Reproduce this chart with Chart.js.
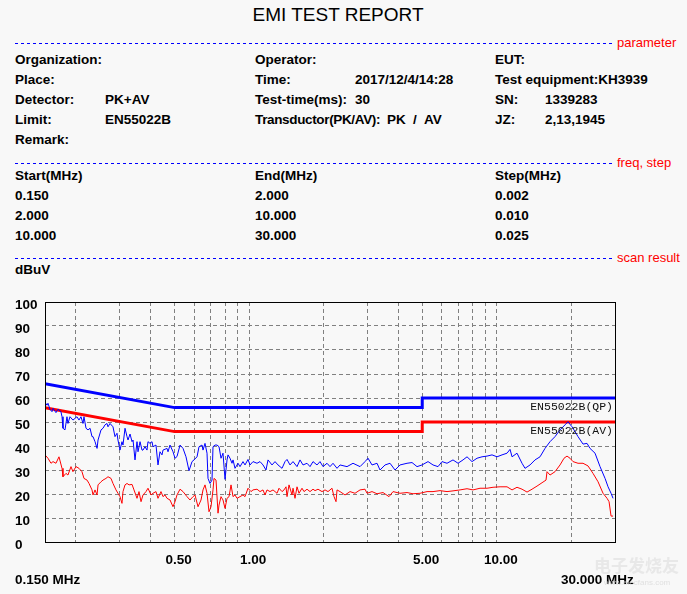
<!DOCTYPE html>
<html><head><meta charset="utf-8">
<script src="https://cdn.jsdelivr.net/npm/chart.js@4.4.0/dist/chart.umd.min.js"></script>
<style>
html,body{margin:0;padding:0;background:#f8f8f8;width:687px;height:594px;overflow:hidden;}
#wrap{position:relative;width:687px;height:594px;font-family:"Liberation Sans",Arial,sans-serif;color:#000;}
.t{position:absolute;font-weight:bold;font-size:13.5px;line-height:20px;white-space:pre;}
.sec{position:absolute;left:15px;width:597px;height:1px;background:repeating-linear-gradient(to right,#0000ff 0 3px,transparent 3px 6px);}
.lab{position:absolute;left:617px;font-size:13px;line-height:16px;color:#ff0000;white-space:pre;}
#title{position:absolute;left:188px;width:300px;text-align:center;top:3px;font-size:19px;line-height:24px;}
#cv{position:absolute;left:0;top:290px;}
#wm1{position:absolute;left:594px;top:552px;font-family:"Noto Sans CJK SC",sans-serif;font-size:17px;font-weight:bold;color:rgba(228,228,228,0.8);}
#wm2{position:absolute;left:604px;top:578px;font-size:8px;color:rgba(218,218,218,0.8);}
</style></head>
<body>
<div id="wrap">
  <div id="title">EMI TEST REPORT</div>

  <div class="sec" style="top:43px"></div><div class="lab" style="top:35px">parameter</div>
  <div class="t" style="left:15px;top:50px">Organization:</div>
  <div class="t" style="left:15px;top:70px">Place:</div>
  <div class="t" style="left:15px;top:90px">Detector:</div><div class="t" style="left:105px;top:90px">PK+AV</div>
  <div class="t" style="left:15px;top:110px">Limit:</div><div class="t" style="left:105px;top:110px">EN55022B</div>
  <div class="t" style="left:15px;top:130px">Remark:</div>

  <div class="t" style="left:255px;top:50px">Operator:</div>
  <div class="t" style="left:255px;top:70px">Time:</div><div class="t" style="left:355px;top:70px">2017/12/4/14:28</div>
  <div class="t" style="left:255px;top:90px">Test-time(ms):</div><div class="t" style="left:355px;top:90px">30</div>
  <div class="t" style="left:255px;top:110px;letter-spacing:-0.35px">Transductor(PK/AV):</div><div class="t" style="left:387px;top:110px">PK</div><div class="t" style="left:413px;top:110px">/</div><div class="t" style="left:424px;top:110px">AV</div>

  <div class="t" style="left:495px;top:50px">EUT:</div>
  <div class="t" style="left:495px;top:70px">Test equipment:KH3939</div>
  <div class="t" style="left:495px;top:90px">SN:</div><div class="t" style="left:545px;top:90px">1339283</div>
  <div class="t" style="left:495px;top:110px">JZ:</div><div class="t" style="left:545px;top:110px">2,13,1945</div>

  <div class="sec" style="top:163px"></div><div class="lab" style="top:155px">freq, step</div>
  <div class="t" style="left:15px;top:166px">Start(MHz)</div>
  <div class="t" style="left:255px;top:166px">End(MHz)</div>
  <div class="t" style="left:495px;top:166px">Step(MHz)</div>
  <div class="t" style="left:15px;top:186px">0.150</div><div class="t" style="left:255px;top:186px">2.000</div><div class="t" style="left:495px;top:186px">0.002</div>
  <div class="t" style="left:15px;top:206px">2.000</div><div class="t" style="left:255px;top:206px">10.000</div><div class="t" style="left:495px;top:206px">0.010</div>
  <div class="t" style="left:15px;top:226px">10.000</div><div class="t" style="left:255px;top:226px">30.000</div><div class="t" style="left:495px;top:226px">0.025</div>

  <div class="sec" style="top:258px"></div><div class="lab" style="top:250px">scan result</div>
  <div class="t" style="left:15px;top:260px">dBuV</div>

  <canvas id="cv" width="687" height="304" style="width:687px;height:304px"></canvas>

  <div class="t" style="left:15px;top:570px">0.150 MHz</div>
  <div class="t" style="left:561px;top:570px">30.000 MHz</div>
  <div id="wm1">电子发烧友</div>
  <div id="wm2">www.elecfans.com</div>
</div>
<script>
// ---- data (MHz, dBuV) ----
const pkFreqMHz = [
0.150,0.1528,0.1542,0.1571,0.1601,0.1616,0.1661,0.1693,0.1740,0.1757,
0.1773,0.1806,0.1840,0.1857,0.1892,0.1945,0.1982,0.2019,0.2057,0.2096,
0.2135,0.2155,0.2196,0.2238,0.2280,0.2322,0.2344,0.2388,0.2433,0.2456,
0.2525,0.2572,0.2620,0.2669,0.2694,0.2745,0.2822,0.2875,0.2929,0.2956,
0.3012,0.3068,0.3097,0.3156,0.3215,0.3245,0.3306,0.3368,0.3400,0.3463,
0.3528,0.3561,0.3628,0.3696,0.3730,0.3800,0.3871,0.3907,0.3981,0.4055,
0.4093,0.4209,0.4288,0.4368,0.4450,0.4492,0.4663,0.4706,0.4795,0.4930,
0.5023,0.5117,0.5262,0.5411,0.5563,0.5721,0.5883,0.5993,0.6163,0.6278,
0.6456,0.6516,0.6638,0.6763,0.6826,0.6954,0.7084,0.7150,0.7285,0.7422,
0.7561,0.7703,0.7847,0.7995,0.8145,0.8221,0.8375,0.8532,0.8612,0.8773,
0.8938,0.9021,0.9190,0.9450,0.9628,0.9900,1.0086,1.0371,1.0764,1.1069,
1.1382,1.1703,1.1923,1.2374,1.2725,1.3085,1.3580,1.3964,1.4226,1.4628,
1.5042,1.5612,1.6053,1.6507,1.7133,1.7617,1.8115,1.8802,1.9334,1.9880,
2.0633,2.1216,2.1816,2.2643,2.3283,2.4849,2.6274,2.8040,2.9375,3.0206,
3.1350,3.2841,3.3769,3.5377,3.7060,3.8823,4.0670,4.3406,4.5470,4.7633,
4.9898,5.2761,5.5270,5.7902,6.0095,6.2950,6.6559,6.9728,7.3044,7.5817,
7.9423,8.3203,8.7160,9.1312,9.5655,10.021,10.497,10.997,11.308,11.520,
12.067,12.641,12.999,13.617,14.265,14.944,15.655,16.400,17.18,17.997,
18.85,19.383,20.117,20.69,21.275,22.287,23.126,23.780,24.92,26.105,
27.35,28.123,28.918,29.461];
const pkLevel = [
58.2,57.0,57.8,55.3,54.3,55.7,53.9,55.3,54.3,52.2,
47.4,46.7,52.2,49.4,52.2,50.8,51.5,52.2,50.8,52.2,
49.4,52.2,47.4,46.7,47.4,43.9,43.9,41.8,39.0,42.5,
46.7,47.4,48.8,49.4,48.0,49.4,48.0,43.9,45.3,42.5,
38.3,41.8,40.4,47.4,43.9,42.5,45.0,41.8,42.5,34.2,
41.8,37.6,41.8,38.3,38.3,39.7,38.3,41.8,41.1,41.8,
39.7,40.4,32.1,37.6,36.3,38.3,39.0,37.6,40.4,37.6,
34.9,35.6,40.4,39.0,35.5,29.7,33.5,34.2,35.5,39.7,
40.4,38.3,41.1,37.0,26.5,24.4,25.8,39.7,40.4,40.4,
39.7,34.9,37.0,26.1,34.2,36.3,34.9,32.8,34.2,30.7,
32.1,32.8,31.4,33.5,32.1,34.4,32.1,33.5,32.8,33.5,
32.1,30.0,34.2,32.1,33.5,32.1,30.7,33.5,34.4,32.1,
33.5,31.4,34.2,32.1,32.8,31.4,33.5,32.1,33.5,31.4,
32.8,31.4,32.8,30.7,32.1,31.4,32.8,31.4,33.5,34.9,
32.1,32.8,30.0,32.1,32.8,30.0,32.1,32.8,33.1,31.4,
32.1,33.5,32.1,31.4,33.5,32.8,34.2,32.8,34.2,35.5,
33.5,34.9,35.5,35.8,36.3,35.5,36.3,37.0,38.6,35.5,
37.0,32.8,30.7,32.1,34.2,35.5,39.0,41.8,43.9,46.7,
48.8,50.1,48.0,46.0,43.9,40.8,41.1,39.0,37.0,31.4,
26.5,23.0,20.3,18.2];

const avFreqMHz = [
0.150,0.1542,0.1586,0.1616,0.1661,0.1708,0.1757,0.1773,0.1823,0.1857,
0.1910,0.1945,0.2001,0.2057,0.2115,0.2155,0.2217,0.2258,0.2322,0.2344,
0.2388,0.2433,0.2456,0.2525,0.2572,0.2644,0.2694,0.2770,0.2822,0.2902,
0.2956,0.3012,0.3068,0.3097,0.3156,0.3215,0.3276,0.3368,0.3431,0.3528,
0.3594,0.3662,0.3730,0.3835,0.3907,0.4018,0.4093,0.4209,0.4288,0.4409,
0.4492,0.4577,0.4663,0.4795,0.4930,0.5023,0.5117,0.5262,0.5411,0.5615,
0.5774,0.5937,0.6049,0.6220,0.6396,0.6516,0.6638,0.6763,0.6889,0.7019,
0.7150,0.7217,0.7353,0.7491,0.7561,0.7703,0.7847,0.7995,0.8145,0.8298,
0.8454,0.8612,0.8773,0.8938,0.9190,0.9450,0.9628,0.9900,1.0180,1.0371,
1.0764,1.1069,1.1382,1.1595,1.1813,1.2147,1.2490,1.2964,1.3207,1.3580,
1.3835,1.4094,1.4226,1.4493,1.4903,1.5042,1.5324,1.5612,1.5904,1.6354,
1.6661,1.7133,1.7617,1.8115,1.8456,1.8978,1.9697,2.0253,2.0826,2.1614,
2.2020,2.2434,2.2643,2.3283,2.4391,2.5551,2.6767,2.8040,2.9375,2.9926,
3.1350,3.2841,3.4724,3.6717,3.8107,4.0670,4.3406,4.5894,4.8979,5.2273,
5.5270,5.8989,6.2950,6.6559,7.1036,7.5817,8.0164,8.5555,9.1312,9.6548,
10.304,10.997,11.520,12.067,12.641,13.243,13.873,14.533,15.224,15.801,
15.949,16.400,17.18,17.997,18.679,19.204,19.747,20.305,21.275,22.287,
23.342,24.452,25.625,26.843,27.863,28.386,28.918,29.461];
const avLevel = [
36.3,34.9,32.8,33.5,32.8,35.5,30.7,27.2,28.6,27.9,
31.4,29.3,31.4,30.7,29.3,26.5,25.8,24.4,21.7,19.6,
21.7,19.6,23.8,25.1,25.8,26.5,27.2,26.5,24.4,21.7,
20.3,18.9,16.1,21.0,23.8,24.4,23.8,24.0,21.7,18.2,
21.0,16.8,19.6,21.0,22.4,19.6,20.3,21.0,18.2,21.0,
18.9,19.6,18.2,17.5,14.7,16.8,19.6,22.0,21.0,18.9,
17.5,18.9,19.6,14.7,17.5,21.7,23.8,20.3,12.6,14.7,
21.7,26.5,25.8,12.0,15.4,18.9,17.5,14.0,18.2,18.9,
23.8,18.9,19.6,18.2,18.9,19.6,18.9,22.4,21.0,21.7,
22.0,21.0,21.7,19.6,21.7,21.0,21.7,20.3,22.4,21.0,
21.7,23.0,18.9,23.8,19.6,22.4,18.2,23.0,20.3,22.4,
21.0,22.0,21.0,22.0,21.4,22.0,21.0,21.7,21.0,22.4,
18.9,16.8,21.7,21.0,19.6,21.0,20.3,21.7,22.0,20.3,
21.0,20.1,20.6,18.9,21.0,20.3,20.6,20.1,20.3,21.0,
21.0,21.4,21.0,21.3,21.7,22.2,21.7,22.4,22.4,22.8,
23.0,23.0,21.7,22.8,22.0,20.8,22.0,23.3,24.7,25.8,
29.3,27.9,29.3,32.1,34.9,35.8,34.9,33.5,32.8,32.8,
31.7,28.6,25.1,20.3,18.2,16.8,10.8,10.8];

const qpLimitFreqMHz = [0.15, 0.5, 5, 5, 30];
const qpLimitLevel   = [66, 56, 56, 60, 60];
const avLimitFreqMHz = [0.15, 0.5, 5, 5, 30];
const avLimitLevel   = [56, 46, 46, 50, 50];
const limitNames = ['EN55022B(QP)', 'EN55022B(AV)'];

const xGridMHz   = [0.2,0.3,0.4,0.5,0.6,0.7,0.8,0.9,1,2,3,4,5,6,7,8,9,10,20];
const xLabelMHz  = [0.5, 1, 5, 10];
const xLabelText = ['0.50', '1.00', '5.00', '10.00'];
const yTickValues = [0,10,20,30,40,50,60,70,80,90,100];

function pts(f, v){ return f.map((x,i)=>({x:x, y:v[i]})); }

const FONT = '"Liberation Sans", Arial, sans-serif';

const framePlugin = {
  id:'frame',
  afterDatasetsDraw(chart){
    const {ctx, chartArea:a, scales} = chart;
    ctx.save();
    ctx.strokeStyle = '#000';
    ctx.lineWidth = 1;
    ctx.strokeRect(Math.round(a.left)+0.5, Math.round(a.top)+0.5, Math.round(a.right-a.left), Math.round(a.bottom-a.top));
    ctx.fillStyle = '#111';
    ctx.font = '11.5px "Liberation Mono", "DejaVu Sans Mono", monospace';
    ctx.textAlign = 'right';
    ctx.textBaseline = 'middle';
    ctx.fillText(limitNames[0], a.right - 2, scales.y.getPixelForValue(qpLimitLevel[4]) + 9);
    ctx.fillText(limitNames[1], a.right - 2, scales.y.getPixelForValue(avLimitLevel[4]) + 9);
    ctx.restore();
  }
};

new Chart(document.getElementById('cv'), {
  type:'line',
  data:{
    datasets:[
      {data:pts(pkFreqMHz, pkLevel), borderColor:'#0000ff', borderWidth:1},
      {data:pts(avFreqMHz, avLevel), borderColor:'#ff0000', borderWidth:1},
      {data:pts(qpLimitFreqMHz, qpLimitLevel), borderColor:'#0000ff', borderWidth:3},
      {data:pts(avLimitFreqMHz, avLimitLevel), borderColor:'#ff0000', borderWidth:3}
    ]
  },
  options:{
    responsive:false,
    animation:false,
    devicePixelRatio:1,
    layout:{padding:{left:15, right:72, top:12, bottom:22}},
    plugins:{legend:{display:false}, tooltip:{enabled:false}},
    elements:{point:{radius:0}, line:{tension:0, fill:false, borderCapStyle:'butt', borderJoinStyle:'miter'}},
    scales:{
      x:{
        type:'logarithmic', min:0.15, max:30,
        afterBuildTicks:(s)=>{ s.ticks = xGridMHz.map(v=>({value:v})); },
        afterFit:(s)=>{ s.height = 30; },
        grid:{color:'#808080', lineWidth:1, drawTicks:false},
        border:{display:false, dash:[4,3]},
        ticks:{autoSkip:false, maxRotation:0, minRotation:0, padding:10, labelOffset:4, color:'#000',
          font:{family:FONT, size:13.5, weight:'bold'},
          callback:(v)=>{ const i = xLabelMHz.indexOf(v); return i>=0 ? xLabelText[i] : ''; }}
      },
      y:{
        min:0, max:100,
        afterBuildTicks:(s)=>{ s.ticks = yTickValues.map(v=>({value:v})); },
        afterFit:(s)=>{ s.width = 30; },
        grid:{color:'#808080', lineWidth:1, drawTicks:false},
        border:{display:false, dash:[4,3]},
        ticks:{crossAlign:'far', padding:0, labelOffset:3, color:'#000',
          font:{family:FONT, size:13.5, weight:'bold'}}
      }
    }
  },
  plugins:[framePlugin]
});
</script>
</body></html>
